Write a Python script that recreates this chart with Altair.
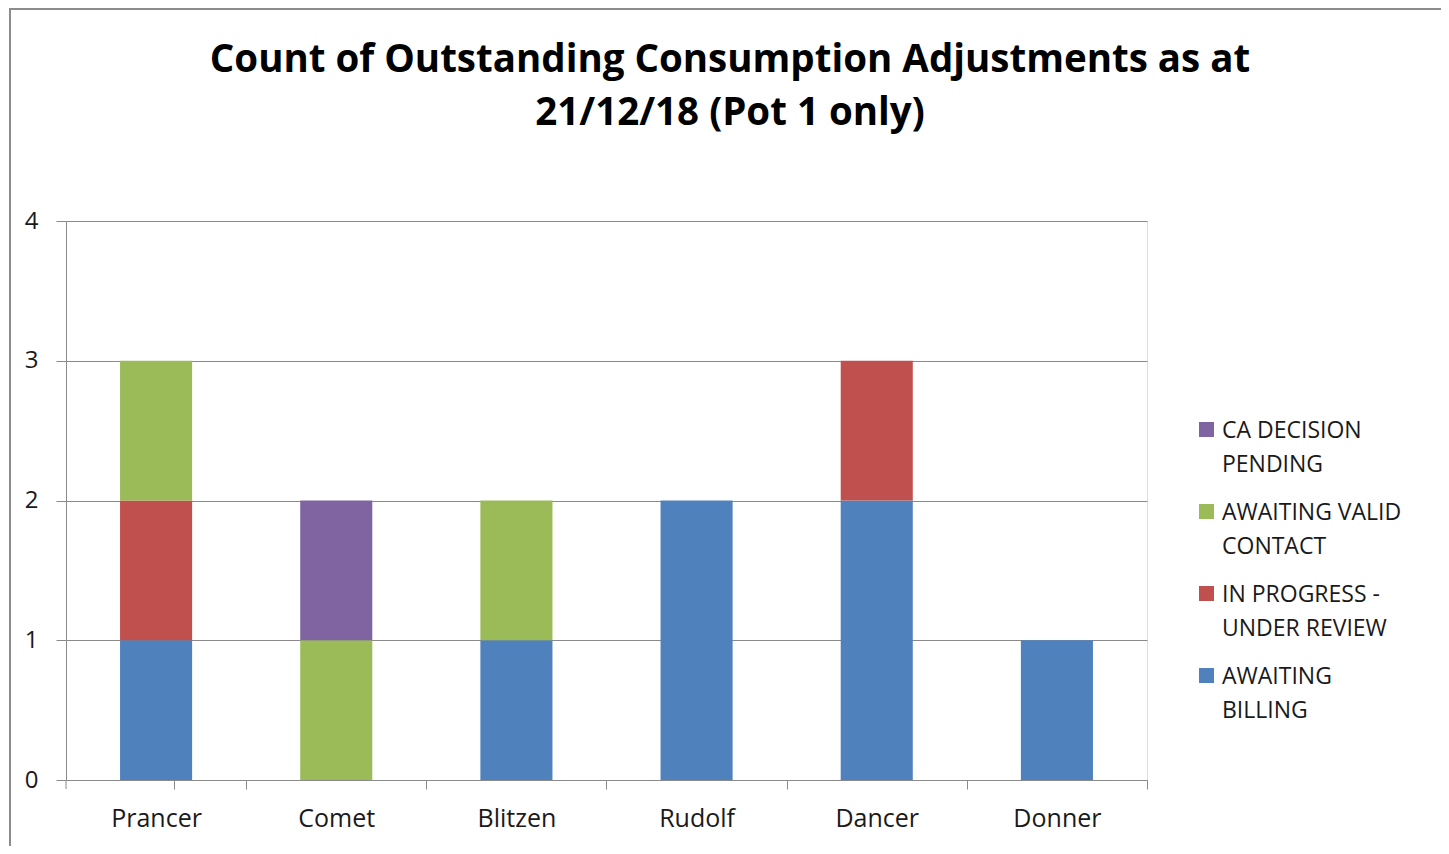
import altair as alt
import pandas as pd

categories = ["Prancer", "Comet", "Blitzen", "Rudolf", "Dancer", "Donner"]
awaiting_billing = [1, 0, 1, 2, 2, 1]
in_progress = [1, 0, 0, 0, 1, 0]
awaiting_valid = [1, 1, 1, 0, 0, 0]
ca_decision = [0, 1, 0, 0, 0, 0]

series_names = ["AWAITING BILLING", "IN PROGRESS - UNDER REVIEW",
                "AWAITING VALID CONTACT", "CA DECISION PENDING"]
series_lines = [["AWAITING", "BILLING"], ["IN PROGRESS -", "UNDER REVIEW"],
                ["AWAITING VALID", "CONTACT"], ["CA DECISION", "PENDING"]]
series_colors = ["#4F81BD", "#C0504D", "#9BBB59", "#8064A2"]
title_lines = ["Count of Outstanding Consumption Adjustments as at",
               "21/12/18 (Pot 1 only)"]

rows = []
for i, name in enumerate(series_names):
    vals = [awaiting_billing, in_progress, awaiting_valid, ca_decision][i]
    for c, v in zip(categories, vals):
        if v > 0:
            rows.append({"Reindeer": c, "Status": name, "Count": v, "order": i})
df = pd.DataFrame(rows)

label_expr = ""
for name, lines in zip(series_names, series_lines):
    label_expr += f"datum.label == '{name}' ? {lines!r} : "
label_expr += "datum.label"

FONT = "Open Sans"
TXT = "#1a1a1a"
GRID = "#8a8a8a"

W, H = 1081, 559

bars = alt.Chart(df).mark_bar().encode(
    x=alt.X("Reindeer:N", sort=categories, title=None,
            scale=alt.Scale(paddingInner=0.6, paddingOuter=0.3),
            axis=alt.Axis(labelAngle=0, bandPosition=1, tickExtra=True,
                          tickOffset=54, labelOffset=-54, tickSize=9,
                          labelPadding=17, domainColor=GRID, tickColor=GRID,
                          labelFont=FONT, labelFontSize=25, labelColor=TXT,
                          grid=False)),
    y=alt.Y("Count:Q", title=None, stack="zero",
            scale=alt.Scale(domain=[0, 4], nice=False),
            axis=alt.Axis(values=[0, 1, 2, 3, 4], tickSize=10, labelPadding=18,
                          domainColor=GRID, tickColor=GRID, gridColor=GRID,
                          labelFont=FONT, labelFontSize=24, labelColor=TXT,
                          format="d")),
    color=alt.Color("Status:N",
                    scale=alt.Scale(domain=series_names[::-1],
                                    range=series_colors[::-1]),
                    legend=alt.Legend(title=None, orient="none",
                                      legendX=1129, legendY=198,
                                      labelExpr=label_expr,
                                      labelFont=FONT, labelFontSize=23,
                                      labelColor=TXT, labelLimit=400,
                                      symbolType="M-1,-1.13H1V0.87H-1Z",
                                      symbolSize=225, symbolStrokeWidth=0,
                                      symbolOpacity=1, rowPadding=24,
                                      labelOffset=4, padding=0)),
    order=alt.Order("order:Q", sort="ascending"),
)

one = pd.DataFrame({"t": [0]})
border = alt.Chart(one).mark_rect(fillOpacity=0, stroke="#8c8c8c",
                                  strokeWidth=2).encode(
    x=alt.value(-56), x2=alt.value(1500), y=alt.value(-212), y2=alt.value(1000))

first_tick = alt.Chart(one).mark_rule(color=GRID).encode(
    x=alt.value(0), y=alt.value(H), y2=alt.value(H + 9))

title = alt.Chart(one).mark_text(font=FONT, fontWeight="bold", fontSize=38.5,
                                 lineHeight=53, align="center",
                                 baseline="alphabetic", color="#000000").encode(
    x=alt.value(664), y=alt.value(-149), text=alt.value(title_lines))

chart = alt.layer(border, bars, first_tick, title).properties(
    width=W, height=H,
    autosize=alt.AutoSizeParams(type="none"),
    padding={"left": 58, "top": 213, "right": 294, "bottom": 66},
).configure_view(stroke=None).configure(
    style={"guide-label": {"lineHeight": 34}})

chart.save("out.html", embed_options={"renderer": "svg", "actions": False})
